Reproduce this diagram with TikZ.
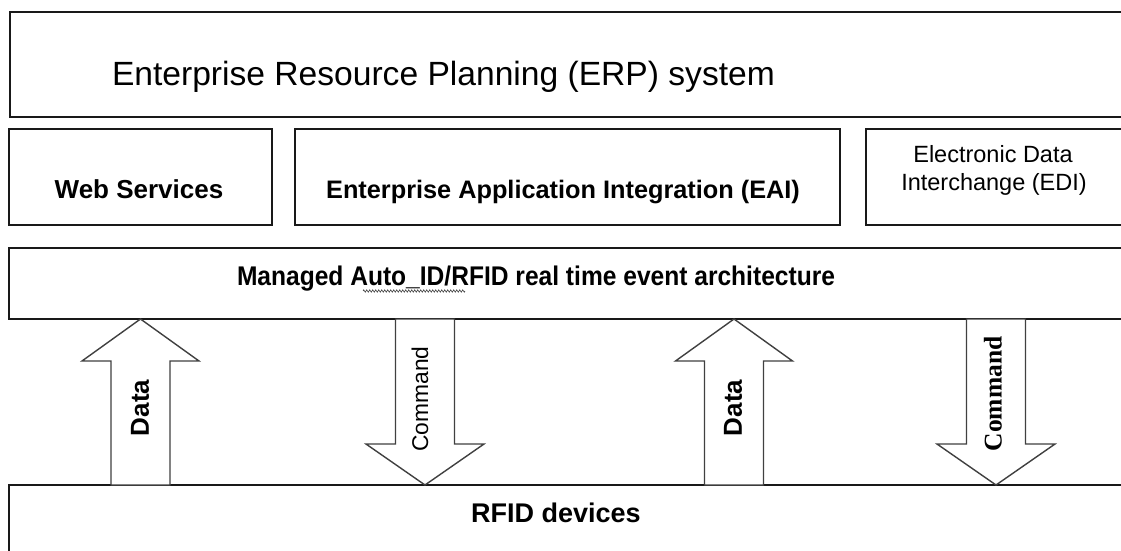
\documentclass[tikz,border=0pt]{standalone}
\usepackage{fontspec}
\setmainfont{Liberation Sans}
\newfontfamily\serifcmd{Liberation Serif}
\usetikzlibrary{decorations.pathmorphing}

\newcommand\fsz[1]{\fontsize{#1}{#1}\selectfont}

\tikzset{
  layerbox/.style={draw=black!90, line width=1.8pt},
  blockarrow/.style={draw=black!75, line width=1.4pt, fill=white, line join=miter},
  lbl/.style={inner sep=0pt, outer sep=0pt, text=black},
  pics/uparrowblk/.style={code={
    \draw[blockarrow] (0,0) -- (58.5,42) -- (29.5,42) -- (29.5,166)
      -- (-29.5,166) -- (-29.5,42) -- (-58.5,42) -- cycle;
  }},
  pics/downarrowblk/.style={code={
    \draw[blockarrow] (0,0) -- (59,-41) -- (29.5,-41) -- (29.5,-166)
      -- (-29.5,-166) -- (-29.5,-41) -- (-59,-41) -- cycle;
  }},
}

\begin{document}
\begin{tikzpicture}[x=1pt, y=-1pt]
  \useasboundingbox (0,0) rectangle (1121,551);
  \clip (0,0) rectangle (1121,551);
  \fill[white] (0,0) rectangle (1121,551);

  % ERP layer (runs off the right edge)
  \draw[layerbox] (10,12) rectangle (1145,117);
  \node[lbl, anchor=base west, font=\fsz{33.6}] (erp) at (112,85)
    {Enterprise Resource Planning (ERP) system};

  % integration layer
  \draw[layerbox] (9,129) rectangle (272,225);
  \draw[layerbox] (295,129) rectangle (840,225);
  \draw[layerbox] (866,129) rectangle (1145,225);
  \node[lbl, anchor=base, font=\bfseries\fsz{26}] (ws) at (139,198) {Web Services};
  \node[lbl, anchor=base, font=\bfseries\fsz{25.3}] (eai) at (563,198)
    {Enterprise Application Integration (EAI)};
  \node[lbl, anchor=base, font=\fsz{23.5}] (edi1) at (993,162) {Electronic Data};
  \node[lbl, anchor=base, font=\fsz{23.5}] (edi2) at (994,190) {Interchange (EDI)};

  % event architecture layer
  \draw[layerbox] (9,248) rectangle (1145,319);
  \node[lbl, anchor=base west, font=\bfseries\fsz{27}] (mgd) at (237,285)
    {\scalebox{0.91}[1]{Managed Auto\_ID/RFID real time event architecture}};
  \coordinate (sqA) at (363,291);
  \coordinate (sqB) at (465,291);
  \draw[black!70, line width=0.6pt, decorate,
        decoration={zigzag, amplitude=1.2pt, segment length=3pt}] (sqA) -- (sqB);

  % device layer
  \draw[layerbox] (9,485) rectangle (1145,570);
  \node[lbl, anchor=base, font=\bfseries\fsz{27}] (rfid) at (556,522) {RFID devices};

  % data / command flows between the layers
  \pic at (140.5,319) {uparrowblk};
  \pic at (425,485) {downarrowblk};
  \pic at (734,319) {uparrowblk};
  \pic at (996,485) {downarrowblk};

  \node[lbl, rotate=90, font=\bfseries\fsz{26}] (data1) at (140,408) {Data};
  \node[lbl, rotate=90, font=\fsz{22.8}] (cmd1) at (420,399) {Command};
  \node[lbl, rotate=90, font=\bfseries\fsz{26}] (data2) at (733,408) {Data};
  \node[lbl, rotate=90, font=\serifcmd\bfseries\fsz{25.5}] (cmd2) at (993,394) {Command};
\end{tikzpicture}
\end{document}
